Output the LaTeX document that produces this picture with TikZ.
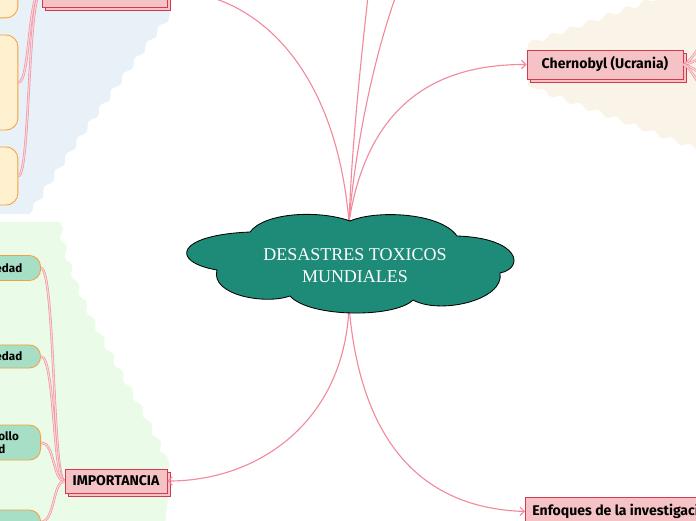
\documentclass[tikz,border=0pt]{standalone}
\usepackage{fontspec}
\setmainfont{Liberation Serif}
\newfontfamily\boxfont{Fira Sans}
\usetikzlibrary{arrows.meta,positioning,shadows,decorations.pathmorphing}
\definecolor{cTeal}{HTML}{1E8A78}
\definecolor{cPink}{HTML}{F28A9B}
\definecolor{cPinkLt}{HTML}{F9D3D8}
\definecolor{cRose}{HTML}{F5C2C6}
\definecolor{cRed}{HTML}{D23A50}
\definecolor{cOrange}{HTML}{F3A23C}
\definecolor{cCream}{HTML}{FFF1CF}
\definecolor{cMint}{HTML}{A7DFC6}
\definecolor{cBlueBg}{HTML}{E8F1F7}
\definecolor{cGreenBg}{HTML}{EAFCE7}
\definecolor{cSandBg}{HTML}{F9F4E7}
\tikzset{
  topic/.style={draw=cRed,fill=cRose,line width=0.6pt,font=\boxfont\bfseries\fontsize{10}{12}\selectfont,inner xsep=5pt,inner ysep=0pt,
    copy shadow={shadow xshift=2.2pt,shadow yshift=-2.2pt}},
  ybox/.style={draw=cOrange,fill=cCream,line width=0.6pt,rounded corners=8.5pt,inner sep=0pt,minimum width=34pt},
  gbox/.style={draw=cOrange,fill=cMint,line width=0.6pt,rounded corners=8pt,font=\boxfont\bfseries\fontsize{8.3}{9}\selectfont,
    inner xsep=13pt,inner ysep=0pt,anchor=east},
  arr/.style={-{Straight Barb[length=3pt,width=6pt]},line width=0.8pt,color=cPink},
  strand/.style={draw=cPink,line width=0.4pt,double=cPinkLt,double distance=0.9pt},
  wave/.style={decorate,decoration={snake,segment length=14pt,amplitude=1.6pt}},
}
\begin{document}
\begin{tikzpicture}[x=0.025cm,y=-0.025cm,
    cloudbody/.style={fill=cTeal,draw=black,line width=0.6pt},
    title/.style={font=\fontsize{12.8}{15.5}\selectfont,text=white,align=center}]
  \useasboundingbox (0,0) rectangle (696,520);
  \clip (0,0) rectangle (696,520);
  \fill[cBlueBg] (-5,-5) -- (170,-5) -- (170,15) decorate[wave] {.. controls (120,80) and (70,150) .. (30,214)} -- (-5,214) -- cycle;
  \fill[cGreenBg] (-5,222) -- (60,222) decorate[wave] {.. controls (70,300) and (140,390) .. (169,462)} -- (169,490) -- (165,525) -- (-5,525) -- cycle;
  \fill[cSandBg] (528,44) decorate[wave] {-- (665,-5)} -- (705,-5) -- (705,152) decorate[wave] {-- (528,86)} -- cycle;

  \node[topic,minimum width=89pt,minimum height=22.8pt] (tl) at (104.5,-9) {};
  \node[topic,minimum width=111pt,minimum height=20.6pt] (chern) at (605,64.5) {Chernobyl (Ucrania)};
  \node[topic,minimum width=72.5pt,minimum height=17pt] (imp) at (116,481) {IMPORTANCIA};
  \node[topic,minimum height=20pt,anchor=north west] (enf) at (525,497) {Enfoques de la investigación};

  \node[ybox,minimum height=34pt] (ya) at (-6,-6) {};
  \node[ybox,minimum height=67.6pt] (yb) at (-6,82.5) {};
  \node[ybox,minimum height=41.3pt] (yc) at (-6,176) {};

  \node[gbox,minimum height=17.8pt,text width=60pt,align=right] (ga) at (41,268) {edad};
  \node[gbox,minimum height=16.4pt,text width=60pt,align=right] (gb) at (41,356.5) {edad};
  \node[gbox,minimum height=24.9pt,text width=17pt,align=left] (gc) at (41,442.5) {ollo\\d};
  \node[gbox,minimum height=17pt,text width=60pt] (gd) at (41,522) {};

  \coordinate (ctop) at (349,222);
  \coordinate (cbot) at (349,306);
  \coordinate (up1) at (372,-40);
  \coordinate (up2) at (410,-40);
  \coordinate (f1) at (725,20); \coordinate (f2) at (725,50);
  \coordinate (f3) at (725,85); \coordinate (f4) at (725,115);

  \foreach \b in {ga,gb,gc,gd} \draw[strand] (imp.west) .. controls +(-12,0) and +(14,0) .. (\b.east);
  \foreach \b in {yb,yc} \draw[strand] (tl.west) .. controls +(-14,0) and +(12,0) .. (\b.east);
  \foreach \f in {f1,f2,f3,f4} \draw[strand] (chern.east) .. controls +(8,0) and +(-12,0) .. (\f);

  \draw[arr] (ctop) .. controls (335,60) and (250,-9) .. (tl.east);
  \draw[arr] (ctop) .. controls (352,140) and (362,50) .. (up1);
  \draw[arr] (ctop) .. controls (355,150) and (375,40) .. (up2);
  \draw[arr] (ctop) .. controls (365,120) and (420,64) .. (chern.west);
  \draw[arr] (cbot) .. controls (345,420) and (260,481) .. (imp.east);
  \draw[arr] (cbot) .. controls (360,440) and (420,508) .. (enf.west);

  \filldraw[cloudbody] (217,270) .. controls (170,262) and (175,235) .. (250,232)
    .. controls (265,212) and (320,210) .. (350,221)
    .. controls (375,210) and (440,212) .. (457,236)
    .. controls (520,238) and (525,268) .. (500,273)
    .. controls (505,300) and (440,315) .. (413,300)
    .. controls (395,318) and (310,318) .. (290,296)
    .. controls (265,305) and (210,295) .. cycle;
  \node[title] (ttl) at (355,266) {DESASTRES TOXICOS\\MUNDIALES};
\end{tikzpicture}
\end{document}
